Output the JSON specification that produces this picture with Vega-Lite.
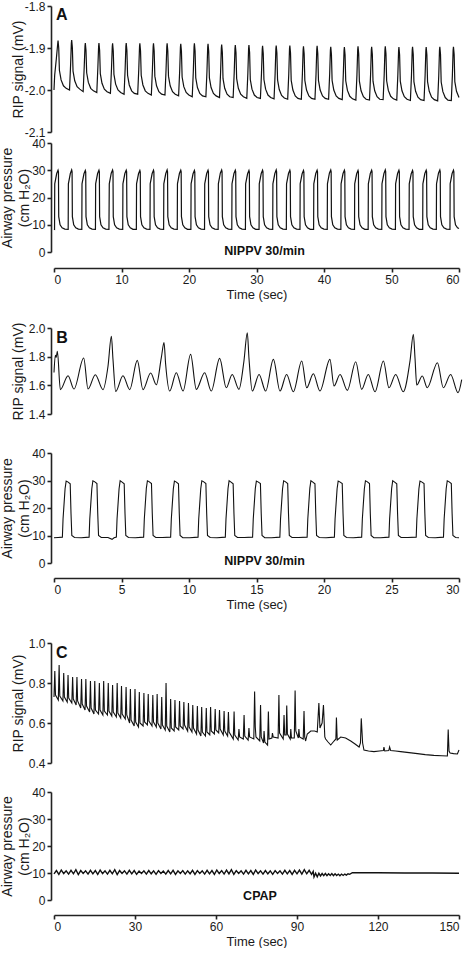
{
"$schema": "https://vega.github.io/schema/vega-lite/v6.json",
"background": "white",
"padding": {"left": 0, "top": 0, "right": 0, "bottom": 0},
"bounds": "flush",
"spacing": 0,
"config": {
 "view": {"stroke": null},
 "locale": {"number": {"decimal": ".", "thousands": ",", "grouping": [3], "currency": ["$", ""], "minus": "-"}},
 "axis": {"grid": false, "labelOverlap": false, "labelFont": "Liberation Sans", "titleFont": "Liberation Sans", "labelFontSize": 12, "titleFontSize": 14, "titleFontWeight": "normal", "labelColor": "#1a1a1a", "titleColor": "#1a1a1a", "domainColor": "#222222", "tickColor": "#222222", "domainWidth": 1.6, "tickWidth": 1.6, "tickSize": 4, "labelPadding": 2},
 "text": {"font": "Liberation Sans", "color": "#111111"}
},
"datasets": {
"aR": [
{"t":0,"v":-2.0},{"t":0.1,"v":-1.965},{"t":0.35,"v":-1.925},{"t":0.55,"v":-1.89},{"t":0.6,"v":-1.882},{"t":0.7,"v":-1.9},{"t":0.8,"v":-1.953},{"t":1.05,"v":-1.976},{"t":1.4,"v":-1.99},{"t":1.8,"v":-1.996},
{"t":2.3,"v":-2.0},{"t":2.46,"v":-1.94},{"t":2.57,"v":-1.889},{"t":2.62,"v":-1.881},{"t":2.72,"v":-1.899},{"t":2.82,"v":-1.955},{"t":3.07,"v":-1.978},{"t":3.42,"v":-1.992},{"t":3.82,"v":-1.998},
{"t":4.32,"v":-2.004},{"t":4.48,"v":-1.944},{"t":4.59,"v":-1.896},{"t":4.64,"v":-1.888},{"t":4.74,"v":-1.906},{"t":4.84,"v":-1.959},{"t":5.09,"v":-1.982},{"t":5.44,"v":-1.996},{"t":5.84,"v":-2.002},
{"t":6.34,"v":-2.006},{"t":6.5,"v":-1.946},{"t":6.61,"v":-1.896},{"t":6.66,"v":-1.888},{"t":6.76,"v":-1.906},{"t":6.86,"v":-1.961},{"t":7.11,"v":-1.984},{"t":7.46,"v":-1.998},{"t":7.86,"v":-2.004},
{"t":8.36,"v":-2.008},{"t":8.52,"v":-1.948},{"t":8.63,"v":-1.897},{"t":8.68,"v":-1.889},{"t":8.78,"v":-1.907},{"t":8.88,"v":-1.963},{"t":9.13,"v":-1.986},{"t":9.48,"v":-2.0},{"t":9.88,"v":-2.006},
{"t":10.38,"v":-2.01},{"t":10.54,"v":-1.95},{"t":10.65,"v":-1.896},{"t":10.7,"v":-1.888},{"t":10.8,"v":-1.906},{"t":10.9,"v":-1.965},{"t":11.15,"v":-1.988},{"t":11.5,"v":-2.002},{"t":11.9,"v":-2.008},
{"t":12.4,"v":-2.01},{"t":12.56,"v":-1.95},{"t":12.67,"v":-1.897},{"t":12.72,"v":-1.889},{"t":12.82,"v":-1.907},{"t":12.92,"v":-1.965},{"t":13.17,"v":-1.988},{"t":13.52,"v":-2.002},{"t":13.92,"v":-2.008},
{"t":14.42,"v":-2.012},{"t":14.58,"v":-1.952},{"t":14.69,"v":-1.897},{"t":14.74,"v":-1.889},{"t":14.84,"v":-1.907},{"t":14.94,"v":-1.967},{"t":15.19,"v":-1.99},{"t":15.54,"v":-2.004},{"t":15.94,"v":-2.01},
{"t":16.44,"v":-2.012},{"t":16.6,"v":-1.952},{"t":16.71,"v":-1.897},{"t":16.76,"v":-1.889},{"t":16.86,"v":-1.907},{"t":16.96,"v":-1.967},{"t":17.21,"v":-1.99},{"t":17.56,"v":-2.004},{"t":17.96,"v":-2.01},
{"t":18.46,"v":-2.014},{"t":18.62,"v":-1.954},{"t":18.73,"v":-1.898},{"t":18.78,"v":-1.89},{"t":18.88,"v":-1.908},{"t":18.98,"v":-1.969},{"t":19.23,"v":-1.992},{"t":19.58,"v":-2.006},{"t":19.98,"v":-2.012},
{"t":20.48,"v":-2.016},{"t":20.64,"v":-1.956},{"t":20.75,"v":-1.897},{"t":20.8,"v":-1.889},{"t":20.9,"v":-1.907},{"t":21.0,"v":-1.971},{"t":21.25,"v":-1.994},{"t":21.6,"v":-2.008},{"t":22.0,"v":-2.014},
{"t":22.5,"v":-2.016},{"t":22.66,"v":-1.956},{"t":22.77,"v":-1.898},{"t":22.82,"v":-1.89},{"t":22.92,"v":-1.908},{"t":23.02,"v":-1.971},{"t":23.27,"v":-1.994},{"t":23.62,"v":-2.008},{"t":24.02,"v":-2.014},
{"t":24.52,"v":-2.018},{"t":24.68,"v":-1.958},{"t":24.79,"v":-1.9},{"t":24.84,"v":-1.892},{"t":24.94,"v":-1.91},{"t":25.04,"v":-1.973},{"t":25.29,"v":-1.996},{"t":25.64,"v":-2.01},{"t":26.04,"v":-2.016},
{"t":26.54,"v":-2.018},{"t":26.7,"v":-1.958},{"t":26.81,"v":-1.901},{"t":26.86,"v":-1.893},{"t":26.96,"v":-1.911},{"t":27.06,"v":-1.973},{"t":27.31,"v":-1.996},{"t":27.66,"v":-2.01},{"t":28.06,"v":-2.016},
{"t":28.56,"v":-2.02},{"t":28.72,"v":-1.96},{"t":28.83,"v":-1.901},{"t":28.88,"v":-1.893},{"t":28.98,"v":-1.911},{"t":29.08,"v":-1.975},{"t":29.33,"v":-1.998},{"t":29.68,"v":-2.012},{"t":30.08,"v":-2.018},
{"t":30.58,"v":-2.02},{"t":30.74,"v":-1.96},{"t":30.85,"v":-1.903},{"t":30.9,"v":-1.895},{"t":31.0,"v":-1.913},{"t":31.1,"v":-1.975},{"t":31.35,"v":-1.998},{"t":31.7,"v":-2.012},{"t":32.1,"v":-2.018},
{"t":32.6,"v":-2.021},{"t":32.76,"v":-1.961},{"t":32.87,"v":-1.902},{"t":32.92,"v":-1.894},{"t":33.02,"v":-1.912},{"t":33.12,"v":-1.976},{"t":33.37,"v":-1.999},{"t":33.72,"v":-2.013},{"t":34.12,"v":-2.019},
{"t":34.62,"v":-2.022},{"t":34.78,"v":-1.962},{"t":34.89,"v":-1.902},{"t":34.94,"v":-1.894},{"t":35.04,"v":-1.912},{"t":35.14,"v":-1.977},{"t":35.39,"v":-2.0},{"t":35.74,"v":-2.014},{"t":36.14,"v":-2.02},
{"t":36.64,"v":-2.022},{"t":36.8,"v":-1.962},{"t":36.91,"v":-1.904},{"t":36.96,"v":-1.896},{"t":37.06,"v":-1.914},{"t":37.16,"v":-1.977},{"t":37.41,"v":-2.0},{"t":37.76,"v":-2.014},{"t":38.16,"v":-2.02},
{"t":38.66,"v":-2.022},{"t":38.82,"v":-1.962},{"t":38.93,"v":-1.903},{"t":38.98,"v":-1.895},{"t":39.08,"v":-1.913},{"t":39.18,"v":-1.977},{"t":39.43,"v":-2.0},{"t":39.78,"v":-2.014},{"t":40.18,"v":-2.02},
{"t":40.68,"v":-2.022},{"t":40.84,"v":-1.962},{"t":40.95,"v":-1.905},{"t":41.0,"v":-1.897},{"t":41.1,"v":-1.915},{"t":41.2,"v":-1.977},{"t":41.45,"v":-2.0},{"t":41.8,"v":-2.014},{"t":42.2,"v":-2.02},
{"t":42.7,"v":-2.023},{"t":42.86,"v":-1.963},{"t":42.97,"v":-1.906},{"t":43.02,"v":-1.898},{"t":43.12,"v":-1.916},{"t":43.22,"v":-1.978},{"t":43.47,"v":-2.001},{"t":43.82,"v":-2.015},{"t":44.22,"v":-2.021},
{"t":44.72,"v":-2.024},{"t":44.88,"v":-1.964},{"t":44.99,"v":-1.904},{"t":45.04,"v":-1.896},{"t":45.14,"v":-1.914},{"t":45.24,"v":-1.979},{"t":45.49,"v":-2.002},{"t":45.84,"v":-2.016},{"t":46.24,"v":-2.022},
{"t":46.74,"v":-2.024},{"t":46.9,"v":-1.964},{"t":47.01,"v":-1.905},{"t":47.06,"v":-1.897},{"t":47.16,"v":-1.915},{"t":47.26,"v":-1.979},{"t":47.51,"v":-2.002},{"t":47.86,"v":-2.016},{"t":48.26,"v":-2.022},
{"t":48.76,"v":-2.023},{"t":48.92,"v":-1.963},{"t":49.03,"v":-1.904},{"t":49.08,"v":-1.896},{"t":49.18,"v":-1.914},{"t":49.28,"v":-1.978},{"t":49.53,"v":-2.001},{"t":49.88,"v":-2.015},{"t":50.28,"v":-2.021},
{"t":50.78,"v":-2.024},{"t":50.94,"v":-1.964},{"t":51.05,"v":-1.906},{"t":51.1,"v":-1.898},{"t":51.2,"v":-1.916},{"t":51.3,"v":-1.979},{"t":51.55,"v":-2.002},{"t":51.9,"v":-2.016},{"t":52.3,"v":-2.022},
{"t":52.8,"v":-2.025},{"t":52.96,"v":-1.965},{"t":53.07,"v":-1.905},{"t":53.12,"v":-1.897},{"t":53.22,"v":-1.915},{"t":53.32,"v":-1.98},{"t":53.57,"v":-2.003},{"t":53.92,"v":-2.017},{"t":54.32,"v":-2.023},
{"t":54.82,"v":-2.025},{"t":54.98,"v":-1.965},{"t":55.09,"v":-1.906},{"t":55.14,"v":-1.898},{"t":55.24,"v":-1.916},{"t":55.34,"v":-1.98},{"t":55.59,"v":-2.003},{"t":55.94,"v":-2.017},{"t":56.34,"v":-2.023},
{"t":56.84,"v":-2.026},{"t":57.0,"v":-1.966},{"t":57.11,"v":-1.905},{"t":57.16,"v":-1.897},{"t":57.26,"v":-1.915},{"t":57.36,"v":-1.981},{"t":57.61,"v":-2.004},{"t":57.96,"v":-2.018},{"t":58.36,"v":-2.024},
{"t":58.86,"v":-2.025},{"t":59.02,"v":-1.965},{"t":59.13,"v":-1.905},{"t":59.18,"v":-1.897},{"t":59.28,"v":-1.915},{"t":59.38,"v":-1.98},{"t":59.63,"v":-2.003},{"t":60.0,"v":-2.018}
],
"aP": [
{"t":0,"v":8.4},{"t":0.08,"v":8.3},{"t":0.11,"v":25},{"t":0.4,"v":28.8},{"t":0.6,"v":30},{"t":0.66,"v":29.4},{"t":0.7,"v":13},{"t":0.9,"v":10},{"t":1.2,"v":8.9},{"t":1.6,"v":8.4},
{"t":2.1,"v":8.3},{"t":2.13,"v":25},{"t":2.42,"v":28.8},{"t":2.62,"v":30.1},{"t":2.68,"v":29.4},{"t":2.72,"v":13},{"t":2.92,"v":10},{"t":3.22,"v":8.9},{"t":3.62,"v":8.4},
{"t":4.12,"v":8.3},{"t":4.15,"v":25},{"t":4.44,"v":28.7},{"t":4.64,"v":29.9},{"t":4.7,"v":29.3},{"t":4.74,"v":13},{"t":4.94,"v":10},{"t":5.24,"v":8.9},{"t":5.64,"v":8.4},
{"t":6.14,"v":8.3},{"t":6.17,"v":25},{"t":6.46,"v":28.8},{"t":6.66,"v":30},{"t":6.72,"v":29.4},{"t":6.76,"v":13},{"t":6.96,"v":10},{"t":7.26,"v":8.9},{"t":7.66,"v":8.4},
{"t":8.14,"v":8.3},{"t":8.19,"v":25},{"t":8.48,"v":28.9},{"t":8.68,"v":30.1},{"t":8.74,"v":29.4},{"t":8.78,"v":13},{"t":8.98,"v":10},{"t":9.28,"v":8.9},{"t":9.68,"v":8.4},
{"t":10.18,"v":8.3},{"t":10.21,"v":25},{"t":10.5,"v":28.8},{"t":10.7,"v":30},{"t":10.76,"v":29.4},{"t":10.8,"v":13},{"t":11.0,"v":10},{"t":11.3,"v":8.9},{"t":11.7,"v":8.3},
{"t":12.2,"v":8.3},{"t":12.23,"v":25},{"t":12.52,"v":28.7},{"t":12.72,"v":29.9},{"t":12.78,"v":29.3},{"t":12.82,"v":13},{"t":13.02,"v":10},{"t":13.32,"v":8.9},{"t":13.72,"v":8.4},
{"t":14.22,"v":8.3},{"t":14.25,"v":25},{"t":14.54,"v":28.8},{"t":14.74,"v":30},{"t":14.8,"v":29.4},{"t":14.84,"v":13},{"t":15.04,"v":10},{"t":15.34,"v":8.9},{"t":15.74,"v":8.4},
{"t":16.24,"v":8.3},{"t":16.27,"v":25},{"t":16.56,"v":28.8},{"t":16.76,"v":30.1},{"t":16.82,"v":29.4},{"t":16.86,"v":13},{"t":17.06,"v":10},{"t":17.36,"v":8.9},{"t":17.76,"v":8.4},
{"t":18.26,"v":8.3},{"t":18.29,"v":25},{"t":18.58,"v":28.8},{"t":18.78,"v":30},{"t":18.84,"v":29.4},{"t":18.88,"v":13},{"t":19.08,"v":10},{"t":19.38,"v":8.9},{"t":19.78,"v":8.3},
{"t":20.28,"v":8.3},{"t":20.31,"v":25},{"t":20.6,"v":28.7},{"t":20.8,"v":29.9},{"t":20.86,"v":29.3},{"t":20.9,"v":13},{"t":21.1,"v":10},{"t":21.4,"v":8.9},{"t":21.8,"v":8.4},
{"t":22.3,"v":8.3},{"t":22.33,"v":25},{"t":22.62,"v":28.8},{"t":22.82,"v":30},{"t":22.88,"v":29.4},{"t":22.92,"v":13},{"t":23.12,"v":10},{"t":23.42,"v":8.9},{"t":23.82,"v":8.4},
{"t":24.32,"v":8.3},{"t":24.35,"v":25},{"t":24.64,"v":28.9},{"t":24.84,"v":30.1},{"t":24.9,"v":29.4},{"t":24.94,"v":13},{"t":25.14,"v":10},{"t":25.44,"v":8.9},{"t":25.84,"v":8.4},
{"t":26.34,"v":8.3},{"t":26.37,"v":25},{"t":26.66,"v":28.8},{"t":26.86,"v":30},{"t":26.92,"v":29.4},{"t":26.96,"v":13},{"t":27.16,"v":10},{"t":27.46,"v":8.9},{"t":27.86,"v":8.4},
{"t":28.36,"v":8.3},{"t":28.39,"v":25},{"t":28.68,"v":28.7},{"t":28.88,"v":29.9},{"t":28.94,"v":29.3},{"t":28.98,"v":13},{"t":29.18,"v":10},{"t":29.48,"v":8.9},{"t":29.88,"v":8.3},
{"t":30.38,"v":8.3},{"t":30.41,"v":25},{"t":30.7,"v":28.8},{"t":30.9,"v":30},{"t":30.96,"v":29.4},{"t":31.0,"v":13},{"t":31.2,"v":10},{"t":31.5,"v":8.9},{"t":31.9,"v":8.4},
{"t":32.4,"v":8.3},{"t":32.43,"v":25},{"t":32.72,"v":28.8},{"t":32.92,"v":30.1},{"t":32.98,"v":29.4},{"t":33.02,"v":13},{"t":33.22,"v":10},{"t":33.52,"v":8.9},{"t":33.92,"v":8.4},
{"t":34.42,"v":8.3},{"t":34.45,"v":25},{"t":34.74,"v":28.8},{"t":34.94,"v":30},{"t":35.0,"v":29.4},{"t":35.04,"v":13},{"t":35.24,"v":10},{"t":35.54,"v":8.9},{"t":35.94,"v":8.4},
{"t":36.44,"v":8.3},{"t":36.47,"v":25},{"t":36.76,"v":28.7},{"t":36.96,"v":29.9},{"t":37.02,"v":29.3},{"t":37.06,"v":13},{"t":37.26,"v":10},{"t":37.56,"v":8.9},{"t":37.96,"v":8.3},
{"t":38.46,"v":8.3},{"t":38.49,"v":25},{"t":38.78,"v":28.8},{"t":38.98,"v":30},{"t":39.04,"v":29.4},{"t":39.08,"v":13},{"t":39.28,"v":10},{"t":39.58,"v":8.9},{"t":39.98,"v":8.4},
{"t":40.48,"v":8.3},{"t":40.51,"v":25},{"t":40.8,"v":28.9},{"t":41.0,"v":30.1},{"t":41.06,"v":29.4},{"t":41.1,"v":13},{"t":41.3,"v":10},{"t":41.6,"v":8.9},{"t":42.0,"v":8.4},
{"t":42.5,"v":8.3},{"t":42.53,"v":25},{"t":42.82,"v":28.8},{"t":43.02,"v":30},{"t":43.08,"v":29.4},{"t":43.12,"v":13},{"t":43.32,"v":10},{"t":43.62,"v":8.9},{"t":44.02,"v":8.4},
{"t":44.52,"v":8.3},{"t":44.55,"v":25},{"t":44.84,"v":28.7},{"t":45.04,"v":29.9},{"t":45.1,"v":29.3},{"t":45.14,"v":13},{"t":45.34,"v":10},{"t":45.64,"v":8.9},{"t":46.04,"v":8.3},
{"t":46.54,"v":8.3},{"t":46.57,"v":25},{"t":46.86,"v":28.8},{"t":47.06,"v":30},{"t":47.12,"v":29.4},{"t":47.16,"v":13},{"t":47.36,"v":10},{"t":47.66,"v":8.9},{"t":48.06,"v":8.4},
{"t":48.56,"v":8.3},{"t":48.59,"v":25},{"t":48.88,"v":28.8},{"t":49.08,"v":30.1},{"t":49.14,"v":29.4},{"t":49.18,"v":13},{"t":49.38,"v":10},{"t":49.68,"v":8.9},{"t":50.08,"v":8.4},
{"t":50.58,"v":8.3},{"t":50.61,"v":25},{"t":50.9,"v":28.8},{"t":51.1,"v":30},{"t":51.16,"v":29.4},{"t":51.2,"v":13},{"t":51.4,"v":10},{"t":51.7,"v":8.9},{"t":52.1,"v":8.4},
{"t":52.6,"v":8.3},{"t":52.63,"v":25},{"t":52.92,"v":28.7},{"t":53.12,"v":29.9},{"t":53.18,"v":29.3},{"t":53.22,"v":13},{"t":53.42,"v":10},{"t":53.72,"v":8.9},{"t":54.12,"v":8.3},
{"t":54.62,"v":8.3},{"t":54.65,"v":25},{"t":54.94,"v":28.8},{"t":55.14,"v":30},{"t":55.2,"v":29.4},{"t":55.24,"v":13},{"t":55.44,"v":10},{"t":55.74,"v":8.9},{"t":56.14,"v":8.4},
{"t":56.64,"v":8.3},{"t":56.67,"v":25},{"t":56.96,"v":28.9},{"t":57.16,"v":30.1},{"t":57.22,"v":29.4},{"t":57.26,"v":13},{"t":57.46,"v":10},{"t":57.76,"v":8.9},{"t":58.16,"v":8.4},
{"t":58.66,"v":8.3},{"t":58.69,"v":25},{"t":58.98,"v":28.8},{"t":59.18,"v":30},{"t":59.24,"v":29.4},{"t":59.28,"v":13},{"t":59.48,"v":10},{"t":59.78,"v":8.9},{"t":60.0,"v":8.6}
],
"bR": [
{"t":0,"v":1.69},{"t":0.1,"v":1.81},{"t":0.16,"v":1.795},{"t":0.25,"v":1.837},{"t":0.47,"v":1.57},{"t":1.04,"v":1.667},{"t":1.48,"v":1.574},{"t":2.2,"v":1.791},{"t":2.52,"v":1.574},{"t":3.06,"v":1.674},{"t":3.63,"v":1.57},{"t":4.0,"v":1.733},{"t":4.25,"v":1.942},{"t":4.37,"v":1.78},{"t":4.57,"v":1.558},{"t":5.11,"v":1.667},{"t":5.61,"v":1.57},{"t":6.17,"v":1.774},{"t":6.59,"v":1.57},{"t":7.16,"v":1.686},{"t":7.58,"v":1.604},{"t":7.95,"v":1.793},{"t":8.15,"v":1.898},{"t":8.27,"v":1.747},{"t":8.57,"v":1.56},{"t":9.06,"v":1.688},{"t":9.56,"v":1.56},{"t":10.12,"v":1.816},{"t":10.54,"v":1.572},{"t":11.16,"v":1.688},{"t":11.65,"v":1.56},{"t":12.27,"v":1.788},{"t":12.76,"v":1.583},{"t":13.2,"v":1.676},{"t":13.7,"v":1.572},{"t":14.07,"v":1.77},{"t":14.32,"v":1.967},{"t":14.44,"v":1.793},{"t":14.69,"v":1.56},{"t":15.19,"v":1.676},{"t":15.68,"v":1.56},{"t":16.25,"v":1.781},{"t":16.74,"v":1.56},{"t":17.23,"v":1.676},{"t":17.73,"v":1.555},{"t":18.35,"v":1.77},{"t":18.72,"v":1.583},{"t":19.21,"v":1.681},{"t":19.7,"v":1.56},{"t":20.44,"v":1.781},{"t":20.74,"v":1.595},{"t":21.19,"v":1.676},{"t":21.73,"v":1.565},{"t":22.35,"v":1.765},{"t":22.79,"v":1.572},{"t":23.28,"v":1.676},{"t":23.78,"v":1.555},{"t":24.4,"v":1.77},{"t":24.81,"v":1.583},{"t":25.31,"v":1.676},{"t":25.87,"v":1.555},{"t":26.37,"v":1.77},{"t":26.62,"v":1.956},{"t":26.74,"v":1.793},{"t":26.87,"v":1.602},{"t":27.28,"v":1.665},{"t":27.65,"v":1.583},{"t":28.4,"v":1.758},{"t":28.84,"v":1.583},{"t":29.38,"v":1.676},{"t":29.93,"v":1.549},{"t":30.2,"v":1.64}
],
"bP": [
{"t":0,"v":9.2},{"t":0.3,"v":9.3},
{"t":0.62,"v":9.4},{"t":0.67,"v":16},{"t":0.82,"v":27},{"t":0.9,"v":29.8},{"t":1.02,"v":29.5},{"t":1.2,"v":28.8},{"t":1.26,"v":18},{"t":1.32,"v":10},{"t":1.52,"v":9.3},{"t":2.02,"v":9.2},
{"t":2.6,"v":9.4},{"t":2.65,"v":16},{"t":2.8,"v":27},{"t":2.88,"v":29.9},{"t":3.0,"v":29.6},{"t":3.18,"v":28.9},{"t":3.24,"v":18},{"t":3.3,"v":10},{"t":3.5,"v":9.3},{"t":4.0,"v":9.3},{"t":4.3,"v":8.6},{"t":4.45,"v":9.2},
{"t":4.62,"v":9.4},{"t":4.67,"v":16},{"t":4.82,"v":27},{"t":4.9,"v":29.9},{"t":5.02,"v":29.5},{"t":5.2,"v":28.8},{"t":5.26,"v":18},{"t":5.32,"v":10},{"t":5.52,"v":9.3},{"t":6.02,"v":9.2},
{"t":6.64,"v":9.4},{"t":6.69,"v":16},{"t":6.84,"v":27.2},{"t":6.92,"v":29.9},{"t":7.04,"v":29.6},{"t":7.22,"v":28.9},{"t":7.28,"v":18},{"t":7.34,"v":10},{"t":7.54,"v":9.3},{"t":8.04,"v":9.3},
{"t":8.64,"v":9.4},{"t":8.69,"v":16},{"t":8.84,"v":27},{"t":8.92,"v":29.8},{"t":9.04,"v":29.5},{"t":9.22,"v":28.8},{"t":9.28,"v":18},{"t":9.34,"v":10},{"t":9.54,"v":9.2},{"t":10.04,"v":9.2},
{"t":10.67,"v":9.4},{"t":10.72,"v":16},{"t":10.87,"v":27},{"t":10.95,"v":29.9},{"t":11.07,"v":29.6},{"t":11.25,"v":28.9},{"t":11.31,"v":18},{"t":11.37,"v":10},{"t":11.57,"v":9.3},{"t":12.07,"v":9.2},
{"t":12.69,"v":9.4},{"t":12.74,"v":16},{"t":12.89,"v":27.1},{"t":12.97,"v":29.9},{"t":13.09,"v":29.5},{"t":13.27,"v":28.8},{"t":13.33,"v":18},{"t":13.39,"v":10},{"t":13.59,"v":9.3},{"t":14.09,"v":9.3},
{"t":14.71,"v":9.4},{"t":14.76,"v":16},{"t":14.91,"v":27},{"t":14.99,"v":29.8},{"t":15.11,"v":29.5},{"t":15.29,"v":28.9},{"t":15.35,"v":18},{"t":15.41,"v":10},{"t":15.61,"v":9.2},{"t":16.11,"v":9.2},
{"t":16.73,"v":9.4},{"t":16.78,"v":16},{"t":16.93,"v":27},{"t":17.01,"v":29.9},{"t":17.13,"v":29.6},{"t":17.31,"v":28.9},{"t":17.37,"v":18},{"t":17.43,"v":10},{"t":17.63,"v":9.3},{"t":18.13,"v":9.3},
{"t":18.75,"v":9.4},{"t":18.8,"v":16},{"t":18.95,"v":27.2},{"t":19.03,"v":29.9},{"t":19.15,"v":29.5},{"t":19.33,"v":28.8},{"t":19.39,"v":18},{"t":19.45,"v":10},{"t":19.65,"v":9.3},{"t":20.15,"v":9.2},
{"t":20.77,"v":9.4},{"t":20.82,"v":16},{"t":20.97,"v":27},{"t":21.05,"v":29.8},{"t":21.17,"v":29.5},{"t":21.35,"v":28.9},{"t":21.41,"v":18},{"t":21.47,"v":10},{"t":21.67,"v":9.3},{"t":22.17,"v":9.2},
{"t":22.79,"v":9.4},{"t":22.84,"v":16},{"t":22.99,"v":27},{"t":23.07,"v":29.9},{"t":23.19,"v":29.6},{"t":23.37,"v":28.9},{"t":23.43,"v":18},{"t":23.49,"v":10},{"t":23.69,"v":9.2},{"t":24.19,"v":9.2},
{"t":24.81,"v":9.4},{"t":24.86,"v":16},{"t":25.01,"v":27.1},{"t":25.09,"v":29.9},{"t":25.21,"v":29.5},{"t":25.39,"v":28.8},{"t":25.45,"v":18},{"t":25.51,"v":10},{"t":25.71,"v":9.3},{"t":26.21,"v":9.3},
{"t":26.83,"v":9.4},{"t":26.88,"v":16},{"t":27.03,"v":27},{"t":27.11,"v":29.8},{"t":27.23,"v":29.5},{"t":27.41,"v":28.9},{"t":27.47,"v":18},{"t":27.53,"v":10},{"t":27.73,"v":9.3},{"t":28.23,"v":9.2},
{"t":28.85,"v":9.4},{"t":28.9,"v":16},{"t":29.05,"v":27},{"t":29.13,"v":29.9},{"t":29.25,"v":29.6},{"t":29.43,"v":28.9},{"t":29.49,"v":18},{"t":29.55,"v":10},{"t":29.75,"v":9.3},{"t":30.0,"v":9.2}
],
"cR": [
{"t":0,"v":0.73},{"t":0.3,"v":0.86},{"t":0.55,"v":0.74},
{"t":1.6,"v":0.715},{"t":1.9,"v":0.89},{"t":2.15,"v":0.735},
{"t":3.3,"v":0.71},{"t":3.6,"v":0.85},{"t":3.85,"v":0.73},
{"t":4.9,"v":0.705},{"t":5.2,"v":0.84},{"t":5.45,"v":0.725},
{"t":6.6,"v":0.7},{"t":6.9,"v":0.83},{"t":7.15,"v":0.72},
{"t":8.2,"v":0.69},{"t":8.5,"v":0.83},{"t":8.75,"v":0.71},
{"t":9.9,"v":0.675},{"t":10.2,"v":0.82},{"t":10.45,"v":0.695},
{"t":11.5,"v":0.665},{"t":11.8,"v":0.82},{"t":12.05,"v":0.685},
{"t":13.2,"v":0.655},{"t":13.5,"v":0.81},{"t":13.75,"v":0.675},
{"t":14.8,"v":0.645},{"t":15.1,"v":0.81},{"t":15.35,"v":0.665},
{"t":16.5,"v":0.645},{"t":16.8,"v":0.8},{"t":17.05,"v":0.665},
{"t":18.1,"v":0.64},{"t":18.4,"v":0.81},{"t":18.65,"v":0.66},
{"t":19.8,"v":0.64},{"t":20.1,"v":0.8},{"t":20.35,"v":0.66},
{"t":21.4,"v":0.635},{"t":21.7,"v":0.79},{"t":21.95,"v":0.655},
{"t":23.1,"v":0.63},{"t":23.4,"v":0.8},{"t":23.65,"v":0.65},
{"t":24.7,"v":0.625},{"t":25.0,"v":0.785},{"t":25.25,"v":0.645},
{"t":26.4,"v":0.62},{"t":26.7,"v":0.78},{"t":26.95,"v":0.64},
{"t":28.0,"v":0.6},{"t":28.3,"v":0.77},{"t":28.55,"v":0.615},
{"t":29.7,"v":0.585},{"t":30.0,"v":0.77},{"t":30.25,"v":0.605},
{"t":31.3,"v":0.58},{"t":31.6,"v":0.755},{"t":31.85,"v":0.6},
{"t":33.0,"v":0.585},{"t":33.3,"v":0.75},{"t":33.55,"v":0.605},
{"t":34.6,"v":0.59},{"t":34.9,"v":0.745},{"t":35.15,"v":0.61},
{"t":36.3,"v":0.585},{"t":36.6,"v":0.74},{"t":36.85,"v":0.605},
{"t":37.9,"v":0.58},{"t":38.2,"v":0.745},{"t":38.45,"v":0.6},
{"t":39.6,"v":0.57},{"t":39.9,"v":0.73},{"t":40.15,"v":0.59},
{"t":41.2,"v":0.565},{"t":41.5,"v":0.8},{"t":41.75,"v":0.585},
{"t":42.9,"v":0.555},{"t":43.2,"v":0.72},{"t":43.45,"v":0.575},
{"t":44.5,"v":0.56},{"t":44.8,"v":0.715},{"t":45.05,"v":0.58},
{"t":46.2,"v":0.565},{"t":46.5,"v":0.71},{"t":46.75,"v":0.585},
{"t":47.8,"v":0.57},{"t":48.1,"v":0.705},{"t":48.35,"v":0.59},
{"t":49.5,"v":0.56},{"t":49.8,"v":0.7},{"t":50.05,"v":0.58},
{"t":51.1,"v":0.555},{"t":51.4,"v":0.69},{"t":51.65,"v":0.575},
{"t":52.8,"v":0.545},{"t":53.1,"v":0.685},{"t":53.35,"v":0.565},
{"t":54.4,"v":0.535},{"t":54.7,"v":0.68},{"t":54.95,"v":0.555},
{"t":56.1,"v":0.535},{"t":56.4,"v":0.675},{"t":56.65,"v":0.555},
{"t":57.7,"v":0.54},{"t":58.0,"v":0.68},{"t":58.25,"v":0.56},
{"t":59.4,"v":0.545},{"t":59.7,"v":0.67},{"t":59.95,"v":0.565},
{"t":61.0,"v":0.55},{"t":61.3,"v":0.665},{"t":61.55,"v":0.57},
{"t":62.7,"v":0.54},{"t":63.0,"v":0.66},{"t":63.25,"v":0.56},
{"t":64.3,"v":0.535},{"t":64.6,"v":0.655},{"t":64.85,"v":0.555},
{"t":66.4,"v":0.52},{"t":66.7,"v":0.657},{"t":66.95,"v":0.54},
{"t":68.2,"v":0.515},{"t":68.5,"v":0.57},{"t":68.75,"v":0.53},
{"t":70.1,"v":0.52},{"t":70.4,"v":0.64},{"t":70.65,"v":0.535},
{"t":71.9,"v":0.515},{"t":72.2,"v":0.575},{"t":72.45,"v":0.53},
{"t":74.0,"v":0.52},{"t":74.3,"v":0.757},{"t":74.55,"v":0.58},{"t":74.8,"v":0.53},
{"t":76.2,"v":0.51},{"t":76.5,"v":0.69},{"t":76.75,"v":0.53},
{"t":77.6,"v":0.5},{"t":77.8,"v":0.56},{"t":78.1,"v":0.505},
{"t":79.1,"v":0.49},{"t":79.4,"v":0.657},{"t":79.65,"v":0.52},
{"t":80.7,"v":0.525},{"t":80.9,"v":0.55},{"t":81.2,"v":0.53},
{"t":83.0,"v":0.525},{"t":83.3,"v":0.74},{"t":83.55,"v":0.55},
{"t":84.9,"v":0.52},{"t":85.2,"v":0.64},{"t":85.45,"v":0.54},
{"t":86.0,"v":0.54},{"t":86.2,"v":0.687},{"t":86.45,"v":0.545},
{"t":87.5,"v":0.52},{"t":87.7,"v":0.57},{"t":87.95,"v":0.525},
{"t":89.0,"v":0.525},{"t":89.3,"v":0.762},{"t":89.55,"v":0.56},
{"t":90.5,"v":0.525},{"t":90.7,"v":0.57},{"t":90.95,"v":0.53},
{"t":92.3,"v":0.52},{"t":92.6,"v":0.66},{"t":92.85,"v":0.53},
{"t":93.2,"v":0.51},{"t":93.8,"v":0.545},{"t":95.1,"v":0.56},{"t":96.5,"v":0.56},{"t":97.5,"v":0.555},{"t":98.1,"v":0.7},{"t":98.5,"v":0.575},{"t":99.3,"v":0.6},{"t":99.8,"v":0.69},{"t":100.3,"v":0.53},{"t":100.6,"v":0.52},{"t":101.5,"v":0.505},{"t":102.5,"v":0.49},{"t":103.7,"v":0.51},{"t":104.4,"v":0.52},{"t":104.6,"v":0.627},{"t":104.9,"v":0.515},{"t":106.2,"v":0.53},{"t":108.0,"v":0.525},{"t":109.9,"v":0.51},{"t":111.5,"v":0.495},{"t":113.0,"v":0.48},{"t":113.5,"v":0.5},{"t":113.8,"v":0.623},{"t":114.3,"v":0.5},{"t":114.8,"v":0.465},{"t":116.5,"v":0.46},{"t":118.5,"v":0.457},{"t":120.5,"v":0.46},{"t":122.0,"v":0.462},{"t":122.2,"v":0.48},{"t":122.5,"v":0.46},{"t":124.0,"v":0.462},{"t":124.3,"v":0.48},{"t":124.7,"v":0.462},{"t":126.5,"v":0.46},{"t":128.4,"v":0.457},{"t":131.5,"v":0.452},{"t":134.6,"v":0.447},{"t":137.5,"v":0.442},{"t":140.7,"v":0.438},{"t":143.5,"v":0.436},{"t":145.7,"v":0.435},{"t":146.0,"v":0.568},{"t":146.3,"v":0.46},{"t":146.7,"v":0.45},{"t":148.0,"v":0.447},{"t":149.4,"v":0.445},{"t":150.0,"v":0.465}
],
"cP": [
{"t":0,"v":9.7},{"t":0.9,"v":10.9},{"t":1.8,"v":9.5},{"t":2.7,"v":11.1},{"t":3.6,"v":9.8},{"t":4.5,"v":10.8},{"t":5.4,"v":9.6},{"t":6.3,"v":11.0},{"t":7.2,"v":9.7},{"t":8.1,"v":11.2},{"t":9.0,"v":9.4},{"t":9.9,"v":10.9},{"t":10.8,"v":9.8},{"t":11.7,"v":10.8},{"t":12.6,"v":9.6},{"t":13.5,"v":11.0},{"t":14.4,"v":9.7},{"t":15.3,"v":10.9},{"t":16.2,"v":9.5},{"t":17.1,"v":11.1},{"t":18.0,"v":9.8},{"t":18.9,"v":10.8},{"t":19.8,"v":9.6},{"t":20.7,"v":11.0},{"t":21.6,"v":9.7},{"t":22.5,"v":11.2},{"t":23.4,"v":9.4},{"t":24.3,"v":10.9},{"t":25.2,"v":9.8},{"t":26.1,"v":10.8},{"t":27.0,"v":9.6},{"t":27.9,"v":11.0},{"t":28.8,"v":9.7},{"t":29.7,"v":10.9},{"t":30.6,"v":9.5},{"t":31.5,"v":10.7},{"t":32.4,"v":9.8},{"t":33.3,"v":10.8},{"t":34.2,"v":9.6},{"t":35.1,"v":10.9},{"t":36.0,"v":9.7},{"t":36.9,"v":10.8},{"t":37.8,"v":9.5},{"t":38.7,"v":10.9},{"t":39.6,"v":9.8},{"t":40.5,"v":10.7},{"t":41.4,"v":9.6},{"t":42.3,"v":10.9},{"t":43.2,"v":9.7},{"t":44.1,"v":11.0},{"t":45.0,"v":9.5},{"t":45.9,"v":10.8},{"t":46.8,"v":9.8},{"t":47.7,"v":10.9},{"t":48.6,"v":9.6},{"t":49.5,"v":10.8},{"t":50.4,"v":9.7},{"t":51.3,"v":11.0},{"t":52.2,"v":9.5},{"t":53.1,"v":10.9},{"t":54.0,"v":9.8},{"t":54.9,"v":10.8},{"t":55.8,"v":9.6},{"t":56.7,"v":11.0},{"t":57.6,"v":9.7},{"t":58.5,"v":10.9},{"t":59.4,"v":9.5},{"t":60.3,"v":11.1},{"t":61.2,"v":9.8},{"t":62.1,"v":10.9},{"t":63.0,"v":9.6},{"t":63.9,"v":11.1},{"t":64.8,"v":9.7},{"t":65.7,"v":11.2},{"t":66.6,"v":9.5},{"t":67.5,"v":10.9},{"t":68.4,"v":9.8},{"t":69.3,"v":10.8},{"t":70.2,"v":9.6},{"t":71.1,"v":11.0},{"t":72.0,"v":9.7},{"t":72.9,"v":10.9},{"t":73.8,"v":9.5},{"t":74.7,"v":11.1},{"t":75.6,"v":9.8},{"t":76.5,"v":10.8},{"t":77.4,"v":9.6},{"t":78.3,"v":10.9},{"t":79.2,"v":9.7},{"t":80.1,"v":10.8},{"t":81.0,"v":9.5},{"t":81.9,"v":10.9},{"t":82.8,"v":9.8},{"t":83.7,"v":10.8},{"t":84.6,"v":9.6},{"t":85.5,"v":11.0},{"t":86.4,"v":9.7},{"t":87.3,"v":10.9},{"t":88.2,"v":9.5},{"t":89.1,"v":11.0},{"t":90.0,"v":9.7},{"t":90.9,"v":11.1},{"t":91.8,"v":9.6},{"t":92.7,"v":11.2},{"t":93.6,"v":9.7},{"t":94.5,"v":11.0},{"t":95.4,"v":9.5},
{"t":96.0,"v":10.6},{"t":96.3,"v":8.5},{"t":96.9,"v":9.9},{"t":97.5,"v":8.6},{"t":98.1,"v":9.9},{"t":98.7,"v":8.9},{"t":99.3,"v":9.8},{"t":99.9,"v":9.0},{"t":100.5,"v":9.8},{"t":101.1,"v":9.0},{"t":101.7,"v":9.7},{"t":102.3,"v":9.1},{"t":102.9,"v":9.8},{"t":103.5,"v":9.0},{"t":104.1,"v":9.7},{"t":104.7,"v":9.1},{"t":105.3,"v":9.6},{"t":105.9,"v":9.0},{"t":106.5,"v":9.6},{"t":107.1,"v":9.1},{"t":107.7,"v":9.6},{"t":108.3,"v":9.2},{"t":108.9,"v":9.7},{"t":109.5,"v":9.5},{"t":110.5,"v":10.1},{"t":120.0,"v":10.1},{"t":130.0,"v":10.0},{"t":140.0,"v":10.0},{"t":150.0,"v":9.9}
]
},
"vconcat": [
{
 "width": 405, "height": 126,
 "layer": [
  {"data": {"name": "aR"}, "mark": {"type": "line", "color": "#111111", "strokeWidth": 1.2},
   "encoding": {
    "x": {"field": "t", "type": "quantitative", "scale": {"domain": [0, 60], "nice": false, "zero": false}, "axis": null},
    "y": {"field": "v", "type": "quantitative", "scale": {"domain": [-2.1, -1.8], "nice": false, "zero": false},
          "axis": {"values": [-2.1, -2.0, -1.9, -1.8], "tickCount": 20, "format": ".1f", "offset": 3, "title": "RIP signal (mV)", "titleX": -33, "titleBaseline": "middle"}}
   }},
  {"data": {"values": [{}]}, "mark": {"type": "text", "fontSize": 16, "fontWeight": "bold", "align": "left", "baseline": "alphabetic"},
   "encoding": {"x": {"datum": 0.3, "type": "quantitative"}, "y": {"datum": -1.833, "type": "quantitative"}, "text": {"value": "A"}}}
 ]
},
{"width": 405, "height": 11, "data": {"values": []}, "mark": {"type": "point", "opacity": 0}, "encoding": {}},
{
 "width": 405, "height": 109,
 "layer": [
  {"data": {"name": "aP"}, "mark": {"type": "line", "color": "#111111", "strokeWidth": 1.2},
   "encoding": {
    "x": {"field": "t", "type": "quantitative", "scale": {"domain": [0, 60], "nice": false, "zero": false},
          "axis": {"values": [0, 10, 20, 30, 40, 50, 60], "tickCount": 20, "offset": 16, "title": "Time (sec)", "titleFontSize": 13, "titlePadding": 3}},
    "y": {"field": "v", "type": "quantitative", "scale": {"domain": [0, 40], "nice": false},
          "axis": {"values": [0, 10, 20, 30, 40], "tickCount": 20, "offset": 3, "title": ["Airway pressure", "(cm H₂O)"], "titleX": -43.5, "titleBaseline": "middle", "titleLineHeight": 17}}
   }},
  {"data": {"values": [{}]}, "mark": {"type": "text", "fontSize": 12.5, "fontWeight": "bold", "align": "center", "baseline": "middle"},
   "encoding": {"x": {"datum": 31.2, "type": "quantitative"}, "y": {"datum": 0.4, "type": "quantitative"}, "text": {"value": "NIPPV 30/min"}}}
 ]
},
{"width": 405, "height": 76, "data": {"values": []}, "mark": {"type": "point", "opacity": 0}, "encoding": {}},
{
 "width": 405, "height": 86,
 "layer": [
  {"data": {"name": "bR"}, "mark": {"type": "line", "color": "#111111", "strokeWidth": 1.1, "interpolate": "monotone"},
   "encoding": {
    "x": {"field": "t", "type": "quantitative", "scale": {"domain": [0, 30], "nice": false, "zero": false}, "axis": null},
    "y": {"field": "v", "type": "quantitative", "scale": {"domain": [1.4, 2.0], "nice": false, "zero": false},
          "axis": {"values": [1.4, 1.6, 1.8, 2.0], "tickCount": 20, "format": ".1f", "offset": 3, "title": "RIP signal (mV)", "titleX": -33, "titleBaseline": "middle"}}
   }},
  {"data": {"values": [{}]}, "mark": {"type": "text", "fontSize": 16, "fontWeight": "bold", "align": "left", "baseline": "alphabetic"},
   "encoding": {"x": {"datum": 0.17, "type": "quantitative"}, "y": {"datum": 1.895, "type": "quantitative"}, "text": {"value": "B"}}}
 ]
},
{"width": 405, "height": 39, "data": {"values": []}, "mark": {"type": "point", "opacity": 0}, "encoding": {}},
{
 "width": 405, "height": 110,
 "layer": [
  {"data": {"name": "bP"}, "mark": {"type": "line", "color": "#111111", "strokeWidth": 1.1},
   "encoding": {
    "x": {"field": "t", "type": "quantitative", "scale": {"domain": [0, 30], "nice": false, "zero": false},
          "axis": {"values": [0, 5, 10, 15, 20, 25, 30], "tickCount": 20, "offset": 15, "title": "Time (sec)", "titleFontSize": 13, "titlePadding": 3}},
    "y": {"field": "v", "type": "quantitative", "scale": {"domain": [0, 40], "nice": false},
          "axis": {"values": [0, 10, 20, 30, 40], "tickCount": 20, "offset": 3, "title": ["Airway pressure", "(cm H₂O)"], "titleX": -43.5, "titleBaseline": "middle", "titleLineHeight": 17}}
   }},
  {"data": {"values": [{}]}, "mark": {"type": "text", "fontSize": 12.5, "fontWeight": "bold", "align": "center", "baseline": "middle"},
   "encoding": {"x": {"datum": 15.6, "type": "quantitative"}, "y": {"datum": 0.6, "type": "quantitative"}, "text": {"value": "NIPPV 30/min"}}}
 ]
},
{"width": 405, "height": 80, "data": {"values": []}, "mark": {"type": "point", "opacity": 0}, "encoding": {}},
{
 "width": 405, "height": 120,
 "layer": [
  {"data": {"name": "cR"}, "mark": {"type": "line", "color": "#111111", "strokeWidth": 1.1},
   "encoding": {
    "x": {"field": "t", "type": "quantitative", "scale": {"domain": [0, 150], "nice": false, "zero": false}, "axis": null},
    "y": {"field": "v", "type": "quantitative", "scale": {"domain": [0.4, 1.0], "nice": false, "zero": false},
          "axis": {"values": [0.4, 0.6, 0.8, 1.0], "tickCount": 20, "format": ".1f", "offset": 3, "title": "RIP signal (mV)", "titleX": -33, "titleBaseline": "middle"}}
   }},
  {"data": {"values": [{}]}, "mark": {"type": "text", "fontSize": 16, "fontWeight": "bold", "align": "left", "baseline": "alphabetic"},
   "encoding": {"x": {"datum": 0.74, "type": "quantitative"}, "y": {"datum": 0.925, "type": "quantitative"}, "text": {"value": "C"}}}
 ]
},
{"width": 405, "height": 29, "data": {"values": []}, "mark": {"type": "point", "opacity": 0}, "encoding": {}},
{
 "width": 405, "height": 108,
 "layer": [
  {"data": {"name": "cP"}, "mark": {"type": "line", "color": "#111111", "strokeWidth": 1.4},
   "encoding": {
    "x": {"field": "t", "type": "quantitative", "scale": {"domain": [0, 150], "nice": false, "zero": false},
          "axis": {"values": [0, 30, 60, 90, 120, 150], "tickCount": 20, "offset": 15, "title": "Time (sec)", "titleFontSize": 13, "titlePadding": 3}},
    "y": {"field": "v", "type": "quantitative", "scale": {"domain": [0, 40], "nice": false},
          "axis": {"values": [0, 10, 20, 30, 40], "tickCount": 20, "offset": 3, "title": ["Airway pressure", "(cm H₂O)"], "titleX": -43.5, "titleBaseline": "middle", "titleLineHeight": 17}}
   }},
  {"data": {"values": [{}]}, "mark": {"type": "text", "fontSize": 12.5, "fontWeight": "bold", "align": "center", "baseline": "middle"},
   "encoding": {"x": {"datum": 76.3, "type": "quantitative"}, "y": {"datum": 1.5, "type": "quantitative"}, "text": {"value": "CPAP"}}}
 ]
}
]
}
